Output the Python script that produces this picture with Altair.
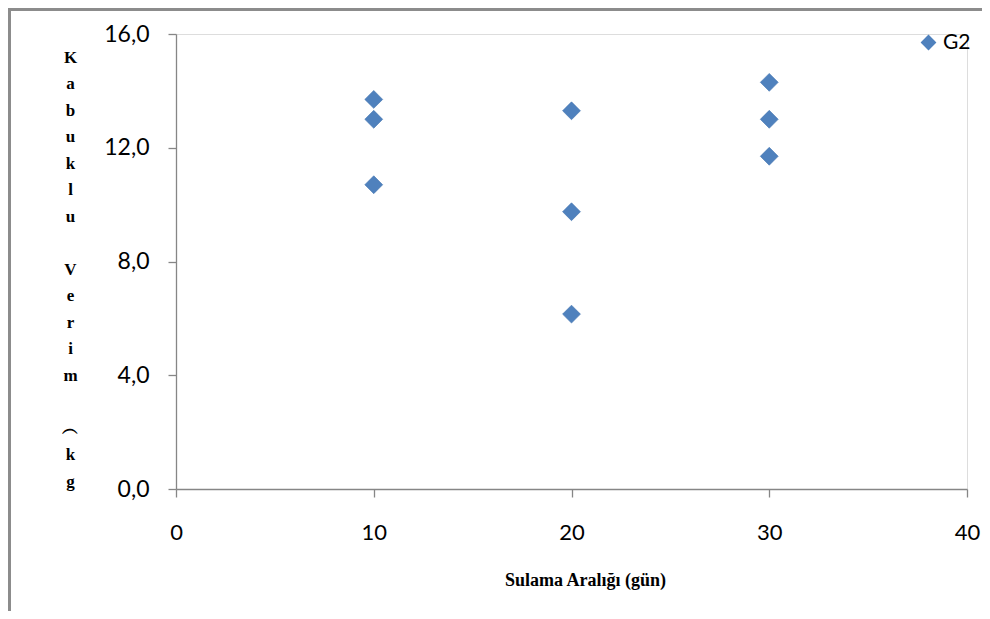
import altair as alt
import pandas as pd

# Data
sulama = [10, 10, 10, 20, 20, 20, 30, 30, 30]
verim = [13.7, 13.0, 10.7, 13.3, 9.75, 6.15, 14.3, 13.0, 11.7]
seri = ["G2"] * 9

x_ticks = [0, 10, 20, 30, 40]
y_ticks = [0, 4, 8, 12, 16]
y_title = ["K", "a", "b", "u", "k", "l", "u", "\u2800", "V", "e", "r", "i", "m", "\u2800", "︵", "k", "g"]
x_title = "Sulama Aralığı (gün)"

df = pd.DataFrame({"Sulama": sulama, "Verim": verim, "Seri": seri})

AX = "#868686"

points = alt.Chart(df).mark_point(
    shape="diamond", filled=True, size=320, opacity=1,
    stroke="#3F72AE", strokeWidth=0.6
).encode(
    x=alt.X("Sulama:Q", scale=alt.Scale(domain=[0, 40], nice=False),
            axis=alt.Axis(values=x_ticks, title=x_title, grid=False,
                          domainColor=AX, tickColor=AX, tickSize=8, domainWidth=1.3, tickWidth=1.3,
                          labelFont="Lato", labelFontSize=22, labelColor="#000", labelPadding=25,
                          labelFlush=False,
                          titleFont="Liberation Serif", titleFontSize=18, titleFontWeight="bold",
                          titleColor="#000", titlePadding=28, titleX=409, titleAnchor="middle")),
    y=alt.Y("Verim:Q", scale=alt.Scale(domain=[0, 16], nice=False),
            axis=alt.Axis(values=y_ticks, title=y_title, grid=False,
                          labelExpr="replace(format(datum.value, '.1f'), '.', ',')",
                          domainColor=AX, tickColor=AX, tickSize=8, domainWidth=1.3, tickWidth=1.3,
                          labelFont="Lato", labelFontSize=23, labelColor="#000", labelPadding=19,
                          labelFlush=False,
                          titleFont="Liberation Serif", titleFontSize=17, titleFontWeight="bold",
                          titleColor="#000", titleAngle=0, titleAlign="center",
                          titleBaseline="top", titleX=-106, titleY=15, titleLineHeight=26.5)),
    color=alt.Color("Seri:N", scale=alt.Scale(range=["#4F81BD"]),
                    legend=alt.Legend(title=None, orient="none", legendX=742, legendY=-2,
                                      symbolType="diamond", symbolSize=250,
                                      symbolStrokeWidth=0,
                                      labelFont="Lato", labelFontSize=21, labelColor="#000"))
)

frame_left = alt.Chart(df).mark_rule(color="#8C8C8C", strokeWidth=2.5).encode(
    x=alt.value(-166.8), y=alt.value(-26), y2=alt.value(600)
)
frame_top = alt.Chart(df).mark_rule(color="#8C8C8C", strokeWidth=2.5).encode(
    x=alt.value(-168), x2=alt.value(820), y=alt.value(-24.8)
)

chart = alt.layer(points, frame_left, frame_top).properties(
    width=791, height=455,
    autosize=alt.AutoSizeParams(type="none"),
    padding={"left": 168, "top": 26, "right": 15, "bottom": 122}
).configure_view(stroke=None).configure(background="white")

chart.save("out.html", embed_options={"renderer": "svg", "actions": False})
